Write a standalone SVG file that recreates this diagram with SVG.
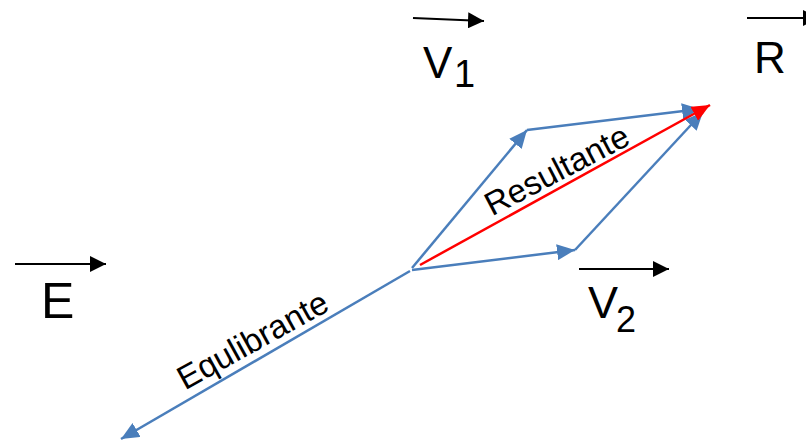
<svg xmlns="http://www.w3.org/2000/svg" width="806" height="444" viewBox="0 0 806 444">
<style>
  .lbl { font-family: "Liberation Sans", Arial, sans-serif; fill: #000; }
  .blue { stroke: #4a7ebb; stroke-width: 2.5; fill: none; marker-end: url(#ab); }
  .red { stroke: #ff0000; stroke-width: 2.5; fill: none; marker-end: url(#ar); }
  .blk { stroke: #000; stroke-width: 2; fill: none; marker-end: url(#ak); }
</style>
<defs>
  <marker id="ab" markerUnits="userSpaceOnUse" markerWidth="20" markerHeight="16" refX="18" refY="8" orient="auto">
    <path d="M0,0 L18,8 L0,16 z" fill="#4a7ebb"/>
  </marker>
  <marker id="ar" markerUnits="userSpaceOnUse" markerWidth="20" markerHeight="16" refX="18" refY="8" orient="auto">
    <path d="M0,0 L18,8 L0,16 z" fill="#ff0000"/>
  </marker>
  <marker id="ak" markerUnits="userSpaceOnUse" markerWidth="18" markerHeight="16" refX="16" refY="8" orient="auto">
    <path d="M0,0 L16,8 L0,16 z" fill="#000"/>
  </marker>
</defs>
<rect width="806" height="444" fill="#fff"/>
<g id="connectors">
  <line class="blue" x1="412" y1="268" x2="527" y2="130"/>
  <line class="blue" x1="527" y1="130" x2="700" y2="109"/>
  <line class="blue" x1="412" y1="270" x2="575" y2="250"/>
  <line class="blue" x1="575" y1="250" x2="703" y2="112"/>
  <line class="red" x1="420" y1="265" x2="710" y2="105"/>
  <line class="blue" x1="410" y1="271" x2="121" y2="439"/>
</g>
<g id="label-resultante">
  <text class="lbl" font-size="33" text-anchor="middle" transform="translate(562,180) rotate(-27.5)">Resultante</text>
</g>
<g id="label-equilibrante">
  <text class="lbl" font-size="33" text-anchor="middle" transform="translate(258,350) rotate(-29)">Equlibrante</text>
</g>
<g id="node-E">
  <line class="blk" x1="15" y1="264" x2="106" y2="264"/>
  <text class="lbl" x="41" y="318" font-size="50">E</text>
</g>
<g id="node-V1">
  <line class="blk" x1="413" y1="18" x2="484" y2="21"/>
  <text class="lbl" x="423" y="78" font-size="44">V</text>
  <text class="lbl" x="454" y="87" font-size="38">1</text>
</g>
<g id="node-V2">
  <line class="blk" x1="579" y1="269" x2="669" y2="269"/>
  <text class="lbl" x="588" y="318" font-size="45">V</text>
  <text class="lbl" x="616" y="332" font-size="36">2</text>
</g>
<g id="node-R">
  <line class="blk" x1="747" y1="18" x2="819" y2="18"/>
  <text class="lbl" x="754" y="73" font-size="44">R</text>
</g>
</svg>
